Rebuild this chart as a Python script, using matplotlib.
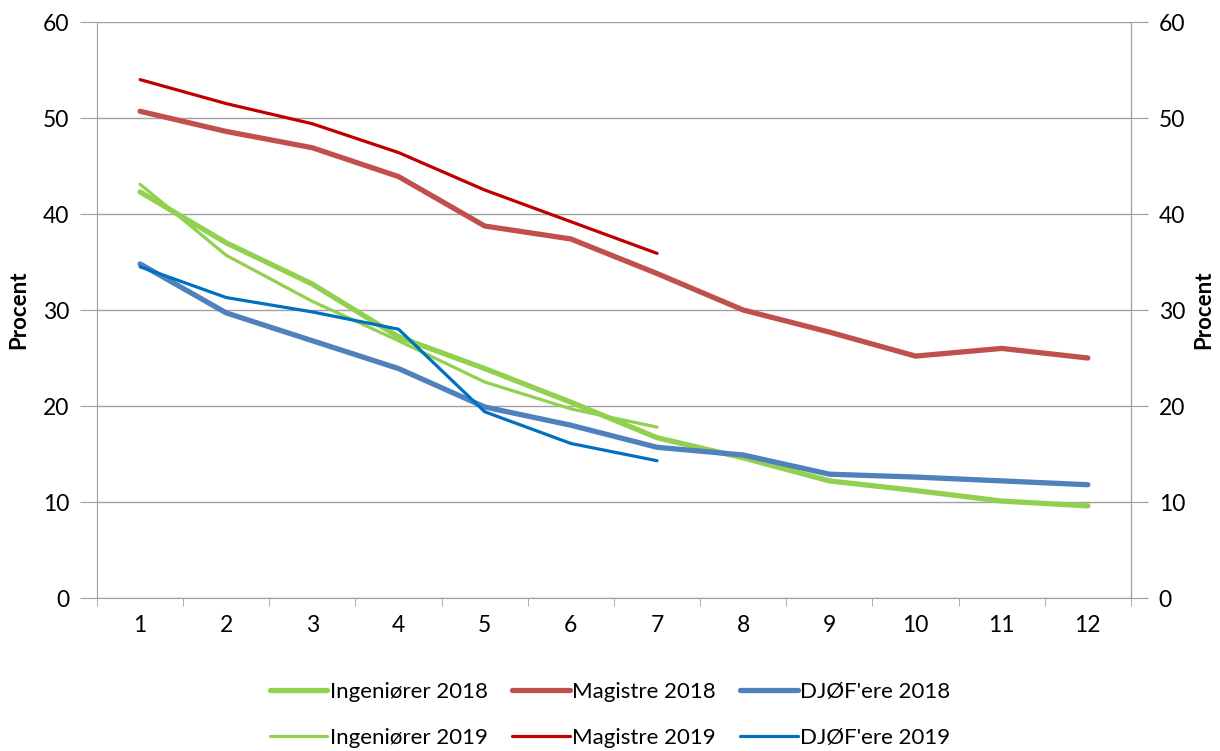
import matplotlib
matplotlib.use("Agg")
import matplotlib.pyplot as plt
from matplotlib.ticker import FixedLocator

plt.rcParams['font.family'] = ['Lato', 'DejaVu Sans']

months = [1, 2, 3, 4, 5, 6, 7, 8, 9, 10, 11, 12]
months19 = [1, 2, 3, 4, 5, 6, 7]

ing2018 = [42.3, 37.0, 32.7, 27.2, 23.9, 20.4, 16.7, 14.6, 12.2, 11.2, 10.1, 9.6]
mag2018 = [50.7, 48.6, 46.9, 43.9, 38.75, 37.4, 33.8, 30.0, 27.7, 25.2, 26.0, 25.0]
djof2018 = [34.8, 29.7, 26.8, 23.9, 19.9, 18.0, 15.7, 14.9, 12.9, 12.6, 12.2, 11.8]

ing2019 = [43.1, 35.7, 30.9, 26.8, 22.5, 19.7, 17.8]
mag2019 = [54.0, 51.5, 49.4, 46.4, 42.5, 39.2, 35.9]
djof2019 = [34.5, 31.3, 29.8, 28.0, 19.4, 16.1, 14.3]

fig = plt.figure(figsize=(12.2, 7.51), dpi=100)
ax = fig.add_axes([0.0795, 0.2037, 0.8475, 0.767])

thick = 3.8
thin = 2.3
l1, = ax.plot(months, ing2018, color='#92D050', lw=thick, solid_capstyle='round', label='Ingeniører 2018')
l2, = ax.plot(months, mag2018, color='#C0504D', lw=thick, solid_capstyle='round', label='Magistre 2018')
l3, = ax.plot(months, djof2018, color='#4F81BD', lw=thick, solid_capstyle='round', label="DJØF'ere 2018")
l4, = ax.plot(months19, ing2019, color='#92D050', lw=thin, solid_capstyle='round', label='Ingeniører 2019')
l5, = ax.plot(months19, mag2019, color='#C00000', lw=thin, solid_capstyle='round', label='Magistre 2019')
l6, = ax.plot(months19, djof2019, color='#0070C0', lw=thin, solid_capstyle='round', label="DJØF'ere 2019")

ax.set_xlim(0.5, 12.5)
ax.set_ylim(0, 60)
ax.set_yticks(range(0, 61, 10))
ax.set_xticks(months)
ax.xaxis.set_minor_locator(FixedLocator([m + 0.5 for m in range(0, 13)]))
ax.tick_params(axis='x', which='major', length=0, labelsize=16.5, pad=12)
ax.tick_params(axis='x', which='minor', length=6, color='#A0A0A0')
ax.tick_params(axis='y', length=12, color='#A0A0A0', labelsize=16.5, pad=8)
ax.grid(axis='y', color='#A0A0A0', lw=1)
ax.set_axisbelow(True)
ax.spines['top'].set_visible(False)
for s in ['left', 'right', 'bottom']:
    ax.spines[s].set_color('#A0A0A0')
ax.set_ylabel('Procent', fontsize=16, fontweight='bold', labelpad=10)

ax2 = ax.twinx()
ax2.set_ylim(0, 60)
ax2.set_yticks(range(0, 61, 10))
ax2.tick_params(axis='y', length=12, color='#A0A0A0', labelsize=16.5, pad=8)
for s in ['top', 'left', 'bottom']:
    ax2.spines[s].set_visible(False)
ax2.spines['right'].set_color('#A0A0A0')
ax2.set_ylabel('Procent', fontsize=16, fontweight='bold', labelpad=6)

fig.legend(handles=[l1, l4, l2, l5, l3, l6], loc='lower center', ncol=3,
           bbox_to_anchor=(0.5, -0.022), frameon=False, fontsize=16,
           handlelength=2.6, handletextpad=0.1, columnspacing=1.1,
           labelspacing=1.15)

fig.savefig('out.png', dpi=100)
